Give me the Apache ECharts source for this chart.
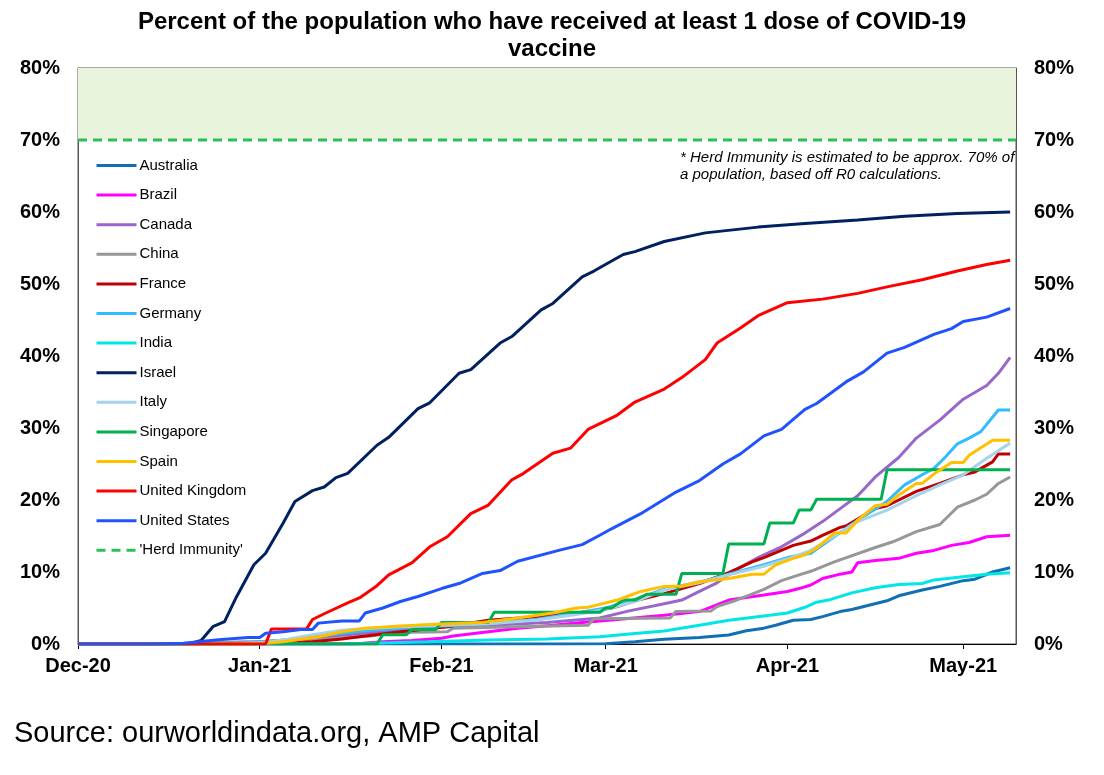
<!DOCTYPE html>
<html><head><meta charset="utf-8">
<script src="https://cdn.jsdelivr.net/npm/echarts@6.0.0/dist/echarts.min.js"></script>
<style>html,body{margin:0;padding:0;background:#fff}#c{width:1104px;height:775px}</style>
</head><body><div id="c"></div>
<script>
// ---- data: [date, % of population with at least 1 dose] ----
const australia = [['2020-12-01',0],['2021-02-22',0],['2021-03-01',0.05],['2021-03-06',0.3],['2021-03-11',0.65],['2021-03-17',0.9],['2021-03-22',1.25],['2021-03-25',1.85],['2021-03-28',2.2],['2021-03-30',2.6],['2021-04-02',3.3],['2021-04-05',3.4],['2021-04-07',3.8],['2021-04-10',4.5],['2021-04-12',4.8],['2021-04-18',6.0],['2021-04-20',6.7],['2021-04-24',7.5],['2021-04-27',8.0],['2021-05-01',8.8],['2021-05-03',9.0],['2021-05-06',10.0],['2021-05-09',10.6]];
const brazil = [['2020-12-01',0],['2021-01-17',0],['2021-01-22',0.3],['2021-01-27',0.5],['2021-02-01',0.8],['2021-02-03',1.1],['2021-02-09',1.7],['2021-02-14',2.2],['2021-02-20',2.6],['2021-02-25',3.0],['2021-03-03',3.4],['2021-03-11',4.0],['2021-03-17',4.5],['2021-03-22',6.1],['2021-03-28',6.8],['2021-04-01',7.3],['2021-04-03',7.7],['2021-04-05',8.2],['2021-04-07',9.1],['2021-04-10',9.7],['2021-04-12',10.0],['2021-04-13',11.3],['2021-04-16',11.6],['2021-04-20',11.9],['2021-04-23',12.6],['2021-04-26',13.0],['2021-04-29',13.7],['2021-05-02',14.1],['2021-05-05',14.9],['2021-05-09',15.1]];
const canada = [['2020-12-01',0],['2020-12-14',0],['2020-12-21',0.1],['2021-01-01',0.3],['2021-01-10',0.8],['2021-01-20',1.6],['2021-01-30',2.3],['2021-02-09',2.6],['2021-02-19',3.0],['2021-02-28',3.6],['2021-03-05',4.6],['2021-03-11',5.6],['2021-03-14',6.1],['2021-03-17',7.3],['2021-03-20',8.5],['2021-03-23',10.2],['2021-03-27',12.0],['2021-03-31',13.5],['2021-04-04',15.4],['2021-04-07',17.0],['2021-04-10',18.8],['2021-04-13',20.6],['2021-04-16',23.2],['2021-04-20',25.9],['2021-04-23',28.6],['2021-04-27',31.1],['2021-05-01',34.0],['2021-05-05',35.9],['2021-05-07',37.6],['2021-05-09',39.8]];
const china = [['2020-12-01',0],['2020-12-15',0],['2020-12-31',0.3],['2021-01-10',0.6],['2021-01-20',1.1],['2021-01-24',1.6],['2021-02-02',1.7],['2021-02-03',2.2],['2021-02-14',2.4],['2021-02-26',2.6],['2021-02-27',3.5],['2021-03-12',3.6],['2021-03-13',4.5],['2021-03-19',4.6],['2021-03-20',5.2],['2021-03-23',6.0],['2021-03-28',7.6],['2021-03-31',8.8],['2021-04-03',9.6],['2021-04-05',10.1],['2021-04-09',11.4],['2021-04-16',13.4],['2021-04-19',14.2],['2021-04-23',15.6],['2021-04-27',16.6],['2021-04-30',19.0],['2021-05-03',20.0],['2021-05-05',20.8],['2021-05-07',22.3],['2021-05-09',23.2]];
const france = [['2020-12-01',0],['2020-12-28',0],['2021-01-05',0.1],['2021-01-10',0.3],['2021-01-15',0.7],['2021-01-20',1.2],['2021-01-25',1.7],['2021-02-02',2.4],['2021-02-09',3.3],['2021-02-19',3.9],['2021-02-25',4.4],['2021-02-28',4.7],['2021-03-03',5.2],['2021-03-06',6.0],['2021-03-11',7.0],['2021-03-17',8.4],['2021-03-22',9.9],['2021-03-26',11.4],['2021-03-28',12.0],['2021-04-02',13.7],['2021-04-05',14.3],['2021-04-07',15.1],['2021-04-10',16.2],['2021-04-11',16.4],['2021-04-16',18.8],['2021-04-18',19.2],['2021-04-23',21.2],['2021-04-27',22.3],['2021-05-01',23.5],['2021-05-03',23.9],['2021-05-06',25.3],['2021-05-07',26.4],['2021-05-09',26.4]];
const germany = [['2020-12-01',0],['2020-12-27',0],['2021-01-02',0.3],['2021-01-06',0.6],['2021-01-10',1.0],['2021-01-15',1.5],['2021-01-20',1.9],['2021-01-25',2.2],['2021-02-01',2.5],['2021-02-09',2.8],['2021-02-17',3.4],['2021-02-24',4.3],['2021-03-01',5.0],['2021-03-06',6.2],['2021-03-11',7.6],['2021-03-17',8.6],['2021-03-22',9.7],['2021-03-28',11.0],['2021-04-01',12.0],['2021-04-05',12.6],['2021-04-09',14.9],['2021-04-13',17.2],['2021-04-18',19.8],['2021-04-21',22.1],['2021-04-24',23.5],['2021-04-26',24.4],['2021-04-28',26.0],['2021-04-30',27.8],['2021-05-02',28.6],['2021-05-04',29.5],['2021-05-07',32.5],['2021-05-09',32.5]];
const india = [['2020-12-01',0],['2021-01-16',0],['2021-01-20',0.1],['2021-01-30',0.3],['2021-02-09',0.55],['2021-02-19',0.7],['2021-02-28',1.0],['2021-03-05',1.4],['2021-03-11',1.8],['2021-03-17',2.6],['2021-03-22',3.3],['2021-03-28',3.9],['2021-04-01',4.3],['2021-04-04',5.1],['2021-04-06',5.8],['2021-04-08',6.1],['2021-04-12',7.1],['2021-04-16',7.8],['2021-04-20',8.25],['2021-04-24',8.4],['2021-04-26',8.9],['2021-05-01',9.35],['2021-05-05',9.7],['2021-05-09',9.9]];
const israel = [['2020-12-01',0],['2020-12-20',0],['2020-12-22',0.5],['2020-12-24',2.4],['2020-12-26',3.1],['2020-12-28',6.5],['2020-12-31',11.0],['2021-01-02',12.6],['2021-01-05',16.8],['2021-01-07',19.8],['2021-01-10',21.3],['2021-01-12',21.8],['2021-01-14',23.1],['2021-01-16',23.7],['2021-01-21',27.6],['2021-01-23',28.7],['2021-01-28',32.7],['2021-01-30',33.5],['2021-02-04',37.6],['2021-02-06',38.1],['2021-02-11',41.8],['2021-02-13',42.7],['2021-02-18',46.4],['2021-02-20',47.3],['2021-02-25',51.0],['2021-02-27',51.8],['2021-03-04',54.1],['2021-03-06',54.5],['2021-03-11',55.9],['2021-03-18',57.1],['2021-03-27',57.9],['2021-04-04',58.4],['2021-04-13',58.9],['2021-04-21',59.4],['2021-04-30',59.8],['2021-05-09',60.0]];
const italy = [['2020-12-01',0],['2020-12-27',0],['2021-01-02',0.2],['2021-01-06',0.7],['2021-01-10',1.3],['2021-01-15',1.9],['2021-01-20',2.2],['2021-01-25',2.4],['2021-02-01',2.6],['2021-02-09',2.8],['2021-02-17',3.3],['2021-02-24',4.1],['2021-03-01',4.8],['2021-03-06',5.9],['2021-03-11',7.5],['2021-03-17',8.5],['2021-03-22',9.6],['2021-03-28',10.8],['2021-04-01',11.8],['2021-04-05',13.0],['2021-04-09',15.0],['2021-04-13',17.0],['2021-04-18',18.6],['2021-04-23',20.6],['2021-04-27',22.1],['2021-05-01',23.5],['2021-05-05',25.8],['2021-05-09',27.9]];
const singapore = [['2020-12-01',0],['2021-01-21',0],['2021-01-22',1.3],['2021-01-26',1.3],['2021-01-27',2.0],['2021-01-31',2.0],['2021-02-01',3.0],['2021-02-09',3.0],['2021-02-10',4.4],['2021-02-28',4.4],['2021-03-01',5.0],['2021-03-02',5.0],['2021-03-04',6.1],['2021-03-06',6.1],['2021-03-08',6.9],['2021-03-13',6.9],['2021-03-14',9.8],['2021-03-21',9.8],['2021-03-22',13.9],['2021-03-28',13.9],['2021-03-29',16.8],['2021-04-02',16.8],['2021-04-03',18.6],['2021-04-05',18.6],['2021-04-06',20.1],['2021-04-17',20.1],['2021-04-18',24.2],['2021-05-09',24.2]];
const spain = [['2020-12-01',0],['2020-12-28',0],['2021-01-02',0.1],['2021-01-05',0.3],['2021-01-11',1.0],['2021-01-15',1.7],['2021-01-19',2.2],['2021-01-25',2.5],['2021-01-30',2.7],['2021-02-08',3.0],['2021-02-14',3.6],['2021-02-20',4.3],['2021-02-24',5.0],['2021-02-26',5.1],['2021-02-28',5.5],['2021-03-03',6.1],['2021-03-05',6.7],['2021-03-07',7.3],['2021-03-11',8.0],['2021-03-14',8.05],['2021-03-17',8.65],['2021-03-22',9.1],['2021-03-26',9.7],['2021-03-28',9.7],['2021-03-30',11.0],['2021-04-02',11.9],['2021-04-04',12.4],['2021-04-06',13.3],['2021-04-09',15.4],['2021-04-11',15.4],['2021-04-13',17.2],['2021-04-16',19.2],['2021-04-18',19.4],['2021-04-20',20.7],['2021-04-23',22.3],['2021-04-24',22.3],['2021-04-26',23.6],['2021-04-29',25.2],['2021-05-01',25.2],['2021-05-02',26.2],['2021-05-06',28.3],['2021-05-09',28.3]];
const unitedKingdom = [['2020-12-01',0],['2021-01-02',0],['2021-01-03',2.1],['2021-01-09',2.1],['2021-01-10',3.4],['2021-01-12',4.2],['2021-01-16',5.7],['2021-01-18',6.4],['2021-01-21',8.1],['2021-01-23',9.6],['2021-01-27',11.3],['2021-01-30',13.5],['2021-02-02',14.9],['2021-02-06',18.1],['2021-02-09',19.3],['2021-02-13',22.8],['2021-02-15',23.7],['2021-02-20',26.5],['2021-02-23',27.2],['2021-02-26',29.8],['2021-03-03',31.8],['2021-03-06',33.6],['2021-03-11',35.4],['2021-03-14',37.0],['2021-03-18',39.5],['2021-03-20',41.8],['2021-03-24',43.9],['2021-03-27',45.6],['2021-04-01',47.4],['2021-04-07',47.9],['2021-04-13',48.7],['2021-04-18',49.6],['2021-04-24',50.6],['2021-04-30',51.8],['2021-05-05',52.7],['2021-05-09',53.3]];
const unitedStates = [['2020-12-01',0],['2020-12-14',0],['2020-12-19',0.1],['2020-12-25',0.6],['2020-12-30',0.9],['2021-01-01',0.9],['2021-01-02',1.5],['2021-01-05',1.7],['2021-01-08',2.0],['2021-01-10',2.0],['2021-01-11',2.9],['2021-01-15',3.2],['2021-01-18',3.2],['2021-01-19',4.3],['2021-01-22',5.0],['2021-01-25',5.9],['2021-01-28',6.6],['2021-02-01',7.7],['2021-02-04',8.4],['2021-02-08',9.8],['2021-02-11',10.2],['2021-02-14',11.5],['2021-02-21',13.0],['2021-02-25',13.8],['2021-02-28',15.1],['2021-03-02',16.0],['2021-03-07',18.1],['2021-03-13',21.1],['2021-03-17',22.7],['2021-03-21',25.0],['2021-03-24',26.4],['2021-03-28',28.9],['2021-03-31',29.8],['2021-04-04',32.6],['2021-04-06',33.4],['2021-04-11',36.4],['2021-04-14',37.8],['2021-04-18',40.4],['2021-04-21',41.2],['2021-04-26',43.0],['2021-04-29',43.8],['2021-05-01',44.8],['2021-05-05',45.4],['2021-05-09',46.6]];
const herdImmunity = [['2020-12-01',70],['2021-05-10',70]];
const herdBand = [70, 80];
const yTicks = [0, 10, 20, 30, 40, 50, 60, 70, 80];
const xRange = ['2020-12-01', '2021-05-10'];
const monthNames = ['Jan','Feb','Mar','Apr','May','Jun','Jul','Aug','Sep','Oct','Nov','Dec'];

const FONT = "'Liberation Sans', Arial, Helvetica, sans-serif";
function toTime(s){ const p = s.split('-').map(Number); return new Date(p[0], p[1]-1, p[2]).getTime(); }

const seriesDefs = [
  ['Australia', australia, '#0F70B4'],
  ['Brazil', brazil, '#FF00FF'],
  ['Canada', canada, '#9966CC'],
  ['China', china, '#979797'],
  ['France', france, '#C00000'],
  ['Germany', germany, '#33BBFF'],
  ['India', india, '#00E6E6'],
  ['Israel', israel, '#002060'],
  ['Italy', italy, '#A6D3EA'],
  ['Singapore', singapore, '#00B050'],
  ['Spain', spain, '#FFC000'],
  ['United Kingdom', unitedKingdom, '#FF0000'],
  ['United States', unitedStates, '#2052FF']
];

const series = seriesDefs.map(function(d){
  return {
    name: d[0], type: 'line', data: d[1].map(function(p){ return [toTime(p[0]), p[1]]; }),
    symbol: 'none', showSymbol: false, smooth: false,
    lineStyle: { width: 3, color: d[2] }, itemStyle: { color: d[2] },
    emphasis: { disabled: true }, animation: false
  };
});
series.push({
  name: "'Herd Immunity'", type: 'line',
  data: herdImmunity.map(function(p){ return [toTime(p[0]), p[1]]; }),
  symbol: 'none', showSymbol: false,
  lineStyle: { width: 3, color: '#2DBE5A', type: [9, 6] }, itemStyle: { color: '#2DBE5A' },
  emphasis: { disabled: true }, animation: false, z: 1,
  markArea: { silent: true, itemStyle: { color: '#E8F5DC' }, data: [[{ yAxis: herdBand[0] }, { yAxis: herdBand[1] }]] }
});

const yAxisBase = function(pos){
  return {
    type: 'value', position: pos, min: yTicks[0], max: yTicks[yTicks.length-1], interval: yTicks[1]-yTicks[0],
    axisLine: { show: true, lineStyle: { color: '#555', width: 1 } },
    axisTick: { show: false }, splitLine: { show: false },
    axisLabel: { formatter: '{value}%', color: '#000', fontSize: 20, fontWeight: 'bold', fontFamily: FONT, margin: 18 }
  };
};

const chart = echarts.init(document.getElementById('c'), null, { renderer: 'canvas' });
chart.setOption({
  animation: false,
  backgroundColor: '#fff',
  title: {
    text: 'Percent of the population who have received at least 1 dose of COVID-19\nvaccine',
    left: 'center', top: 9, padding: [0, 5, 0, 0],
    textStyle: { fontSize: 24, fontWeight: 'bold', color: '#000', fontFamily: FONT, lineHeight: 27 }
  },
  grid: { left: 78, right: 88, top: 68, bottom: 131, show: true, borderColor: '#555', borderWidth: 1, containLabel: false, outerBoundsMode: 'none' },
  legend: {
    orient: 'vertical', left: 95, top: 158, padding: 0,
    itemWidth: 40, itemHeight: 14, itemGap: 14.6, selectedMode: false,
    itemStyle: { opacity: 0 },
    lineStyle: { width: 3 },
    textStyle: { fontSize: 15, color: '#000', fontFamily: FONT, lineHeight: 14, padding: [0, 0, 0, -2] },
    data: seriesDefs.map(function(d){ return d[0]; }).concat(["'Herd Immunity'"])
  },
  xAxis: {
    type: 'time', min: toTime(xRange[0]), max: toTime(xRange[1]),
    splitNumber: 5, minInterval: 28 * 86400000,
    axisLine: { show: true, lineStyle: { color: '#000', width: 1 } },
    axisTick: { show: true, length: 5, lineStyle: { color: '#000' } },
    splitLine: { show: false },
    axisLabel: {
      color: '#000', fontSize: 20, fontWeight: 'bold', fontFamily: FONT, margin: 12, hideOverlap: false,
      formatter: function(v){ const d = new Date(v); if (d.getDate() !== 1) return ''; return monthNames[d.getMonth()] + '-' + String(d.getFullYear()).slice(2); }
    }
  },
  yAxis: [yAxisBase('left'), yAxisBase('right')],
  graphic: [
    { type: 'text', left: 680, top: 149, silent: true,
      style: { text: '* Herd Immunity is estimated to be approx. 70% of\na population, based off R0 calculations.', font: 'italic 15px ' + FONT, fill: '#000', lineHeight: 17 } },
    { type: 'text', left: 14, top: 719, silent: true,
      style: { text: 'Source: ourworldindata.org, AMP Capital', font: '29px ' + FONT, fill: '#000' } }
  ],
  series: series
});
</script>
</body></html>
